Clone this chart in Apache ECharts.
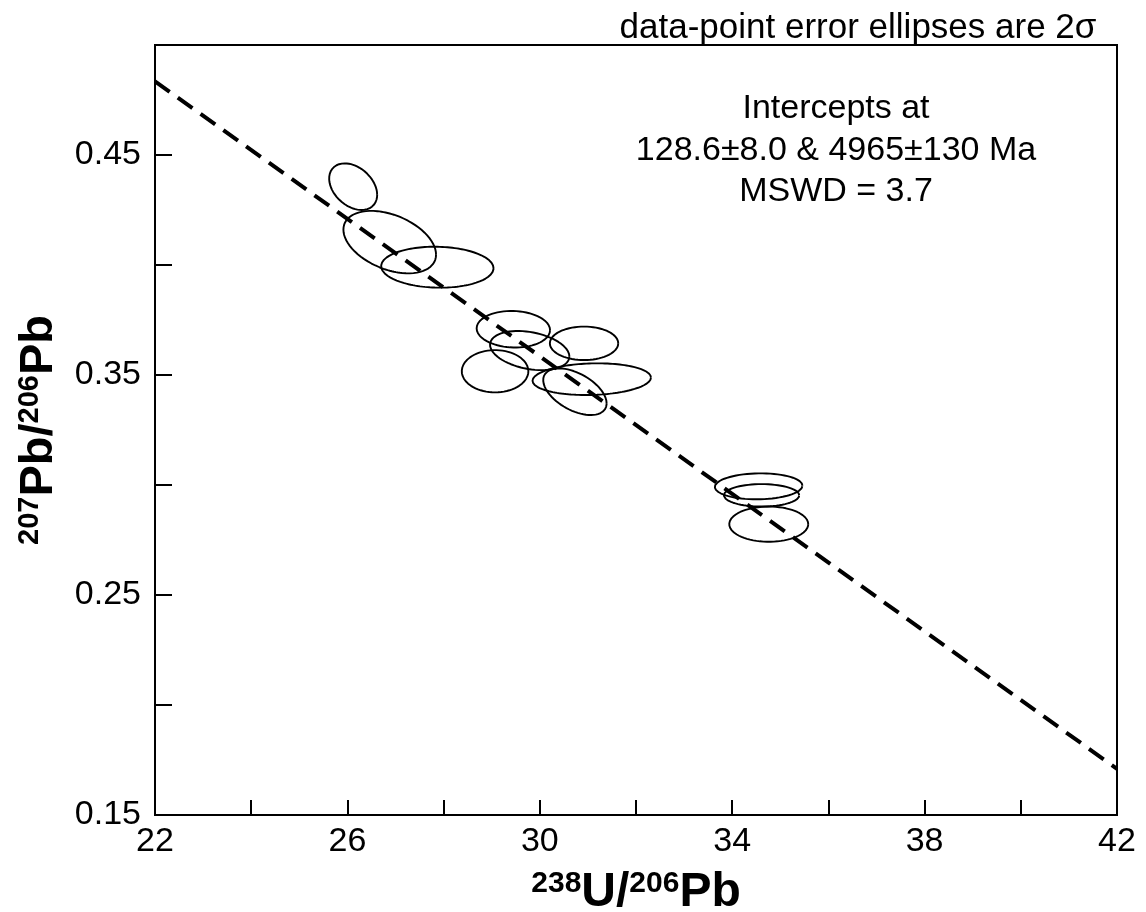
<!DOCTYPE html>
<html>
<head>
<meta charset="utf-8">
<script src="https://cdn.jsdelivr.net/npm/echarts@6/dist/echarts.min.js"></script>
<style>
html,body{margin:0;padding:0;background:#fff;}
#chart{width:1146px;height:912px;}
</style>
</head>
<body>
<div id="chart"></div>
<script>
// ---- Data ----
const xLabelTicks = [22, 26, 30, 34, 38, 42];          // labelled 238U/206Pb ticks
const yLabelTicks = [0.15, 0.25, 0.35, 0.45];          // labelled 207Pb/206Pb ticks

// error ellipses (2σ): centre, half-widths, error correlation
const ellipseCx  = [26.12, 26.88, 27.87, 29.45, 29.79, 30.92, 29.07, 31.08, 30.73, 34.55, 34.61, 34.76];
const ellipseCy  = [0.4356, 0.4104, 0.3990, 0.3708, 0.3611, 0.3644, 0.3517, 0.3481, 0.3424, 0.2994, 0.2953, 0.2822];
const ellipseSx  = [0.499, 0.963, 1.168, 0.763, 0.825, 0.711, 0.692, 1.231, 0.659, 0.911, 0.784, 0.821];
const ellipseSy  = [0.0106, 0.0142, 0.0093, 0.0083, 0.0089, 0.0076, 0.0096, 0.0072, 0.0106, 0.0059, 0.0051, 0.0080];
const ellipseRho = [-0.35, -0.40, -0.05, -0.05, -0.30, 0.00, 0.00, 0.10, -0.50, 0.05, 0.00, 0.00];

// regression (discordia) line end points
const lineX = [22, 42];
const lineY = [0.4835, 0.1710];

const noteTop = 'data-point error ellipses are 2σ';
const noteIntercepts = ['Intercepts at', '128.6±8.0 & 4965±130 Ma', 'MSWD = 3.7'];

// ---- Build ----
const FONT = '"Liberation Sans", Arial, Helvetica, sans-serif';
const N = 140;
function ellipseOutline(i) {
  const r = ellipseRho[i];
  const q = Math.sqrt(1 - r * r);
  const pts = [];
  for (let k = 0; k <= N; k++) {
    const t = 2 * Math.PI * k / N;
    pts.push([
      ellipseCx[i] + ellipseSx[i] * Math.cos(t),
      ellipseCy[i] + ellipseSy[i] * (r * Math.cos(t) + q * Math.sin(t))
    ]);
  }
  return pts;
}

const series = [];
for (let i = 0; i < ellipseCx.length; i++) {
  series.push({
    type: 'line',
    name: 'ellipse' + (i + 1),
    data: ellipseOutline(i),
    showSymbol: false,
    symbol: 'none',
    smooth: false,
    silent: true,
    lineStyle: { color: '#000', width: 1.9 },
    z: 3
  });
}
series.push({
  type: 'line',
  name: 'regression',
  data: lineX.map((x, i) => [x, lineY[i]]),
  showSymbol: false,
  symbol: 'none',
  silent: true,
  lineStyle: { color: '#000', width: 4, type: [18, 10] },
  z: 4
});

const chart = echarts.init(document.getElementById('chart'), null, { renderer: 'canvas' });
chart.setOption({
  animation: false,
  backgroundColor: '#fff',
  grid: {
    left: 155, right: 29, top: 45, bottom: 97,
    outerBoundsMode: 'none',
    containLabel: false,
    show: true, borderColor: '#000', borderWidth: 2, backgroundColor: 'transparent'
  },
  xAxis: {
    type: 'value', min: 22, max: 42, interval: 2,
    axisLine: { show: true, onZero: false, lineStyle: { color: '#000', width: 2 } },
    axisTick: { show: true, inside: true, length: 15, lineStyle: { color: '#000', width: 2 } },
    splitLine: { show: false },
    axisLabel: {
      margin: 10, fontSize: 34, color: '#000', fontFamily: FONT,
      formatter: v => xLabelTicks.some(t => Math.abs(t - v) < 1e-9) ? String(v) : ''
    },
    name: '{sup|238}{main|U/}{sup|206}{main|Pb}',
    nameLocation: 'middle',
    nameGap: 54,
    nameTextStyle: {
      rich: {
        main: { fontSize: 48, fontWeight: 'bold', color: '#000', fontFamily: FONT, verticalAlign: 'bottom', lineHeight: 48 },
        sup: { fontSize: 30, fontWeight: 'bold', color: '#000', fontFamily: FONT, verticalAlign: 'top', lineHeight: 30 }
      }
    }
  },
  yAxis: {
    type: 'value', min: 0.15, max: 0.50, interval: 0.05,
    axisLine: { show: true, onZero: false, lineStyle: { color: '#000', width: 2 } },
    axisTick: { show: true, inside: true, length: 17, lineStyle: { color: '#000', width: 2 } },
    splitLine: { show: false },
    axisLabel: {
      margin: 14, fontSize: 34, color: '#000', fontFamily: FONT,
      formatter: v => yLabelTicks.some(t => Math.abs(t - v) < 1e-9) ? v.toFixed(2) : ''
    },
    name: '{sup|207}{main|Pb/}{sup|206}{main|Pb}',
    nameLocation: 'middle',
    nameRotate: 90,
    nameGap: 92,
    nameTextStyle: {
      rich: {
        main: { fontSize: 47, fontWeight: 'bold', color: '#000', fontFamily: FONT, verticalAlign: 'bottom', lineHeight: 48 },
        sup: { fontSize: 29, fontWeight: 'bold', color: '#000', fontFamily: FONT, verticalAlign: 'top', lineHeight: 30 }
      }
    }
  },
  graphic: [
    {
      type: 'text', x: 858, y: 28, z: 10,
      style: { text: noteTop, fontSize: 35, fontFamily: FONT, fill: '#000', align: 'center', verticalAlign: 'middle' }
    },
    {
      type: 'text', x: 836, y: 88, z: 10,
      style: { text: noteIntercepts.join('\n'), fontSize: 34, lineHeight: 41.5, fontFamily: FONT, fill: '#000', align: 'center', verticalAlign: 'top' }
    }
  ],
  series: series
});
</script>
</body>
</html>
